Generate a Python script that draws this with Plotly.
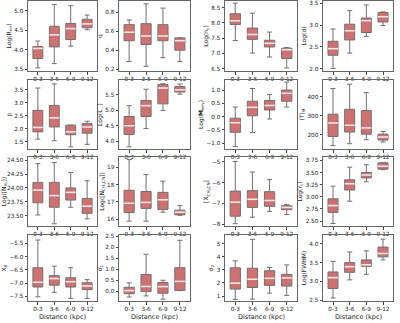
import plotly.graph_objects as go

categories = ["0-3", "3-6", "6-9", "9-12"]

# Each panel: [lower whisker, Q1, median, Q3, upper whisker] per distance bin
log_rvir = [[3.53, 3.64, 4.09, 4.51], [3.77, 4.07, 4.26, 4.56], [4.03, 4.38, 4.54, 4.66], [4.08, 4.60, 4.67, 4.78], [4.22, 5.16, 5.13, 4.89]]
q_index = [[0.28, 0.23, 0.32, 0.28], [0.50, 0.46, 0.50, 0.40], [0.59, 0.55, 0.55, 0.50], [0.67, 0.68, 0.67, 0.53], [0.72, 0.89, 0.845, 0.53]]
log_nc = [[7.42, 7.01, 6.88, 6.52], [7.95, 7.46, 7.21, 6.83], [8.07, 7.62, 7.33, 7.12], [8.30, 7.83, 7.43, 7.17], [8.65, 8.32, 7.70, 7.19]]
log_d = [[2.01, 2.36, 2.74, 2.99], [2.31, 2.66, 2.83, 3.07], [2.46, 2.87, 3.10, 3.19], [2.63, 3.02, 3.16, 3.29], [2.91, 3.33, 3.46, 3.30]]
p_index = [[1.60, 1.54, 1.30, 1.40], [1.88, 2.07, 1.77, 1.83], [2.05, 2.42, 1.88, 2.07], [2.71, 2.90, 2.14, 2.20], [3.57, 3.73, 2.14, 2.29]]
log_l = [[3.82, 4.41, 5.00, 5.52], [4.22, 4.80, 5.21, 5.59], [4.50, 5.15, 5.72, 5.66], [4.80, 5.32, 5.83, 5.77], [5.15, 5.68, 5.86, 5.85]]
log_menv = [[-1.13, -0.60, -0.09, 0.36], [-0.59, 0.03, 0.25, 0.58], [-0.23, 0.35, 0.42, 0.88], [-0.06, 0.58, 0.61, 1.00], [0.36, 1.06, 0.83, 1.30]]
t_mean = [[143, 153, 174, 162], [191, 214, 203, 172], [262, 250, 236, 188], [308, 334, 327, 203], [443, 466, 422, 217]]
log_nh2 = [[23.51, 23.35, 23.65, 23.44], [23.73, 23.65, 23.78, 23.54], [23.96, 23.86, 23.92, 23.67], [24.10, 24.10, 24.00, 23.81], [24.44, 24.46, 24.28, 24.13]]
log_nch3cn = [[15.88, 15.88, 16.40, 16.22], [16.38, 16.62, 16.55, 16.25], [16.92, 16.97, 17.12, 16.40], [17.67, 17.60, 17.55, 16.52], [19.45, 18.58, 18.20, 16.78]]
x_ch3cn = [[-7.97, -7.66, -7.38, -7.53], [-7.61, -7.19, -7.14, -7.30], [-6.94, -6.80, -6.86, -7.19], [-6.41, -6.39, -6.44, -7.11], [-5.00, -5.50, -5.86, -7.06]]
log_rc = [[2.45, 2.91, 3.31, 3.56], [2.68, 3.14, 3.39, 3.57], [2.82, 3.27, 3.45, 3.63], [2.96, 3.35, 3.50, 3.70], [3.22, 3.61, 3.66, 3.70]]
x_zero = [[-7.52, -7.35, -7.58, -7.58], [-7.15, -7.08, -7.15, -7.25], [-6.97, -6.83, -6.95, -7.11], [-6.42, -6.72, -6.80, -6.99], [-5.37, -6.36, -6.42, -6.87]]
sigma1 = [[-0.26, -0.21, -0.36, 0.03], [-0.11, -0.01, -0.09, 0.04], [0.03, 0.22, 0.21, 0.45], [0.18, 0.76, 0.40, 1.07], [0.38, 1.68, 0.50, 2.31]]
sigma2 = [[0.74, 0.76, 1.22, 1.05], [1.53, 1.65, 1.81, 1.76], [1.98, 2.28, 2.35, 2.38], [3.15, 3.12, 2.93, 2.65], [3.68, 5.32, 3.18, 3.37]]
log_fwhm = [[2.56, 3.04, 3.19, 3.57], [2.81, 3.24, 3.40, 3.65], [3.10, 3.39, 3.44, 3.74], [3.25, 3.50, 3.57, 3.91], [3.53, 3.78, 3.81, 4.12]]

panels = [
    (log_rvir, "Log(R<sub>vir</sub>)", [3.45, 5.25], 0.5, ".1f"),
    (q_index, "q", [0.18, 0.92], 0.2, ".1f"),
    (log_nc, "Log(n<sub>c</sub>)", [6.42, 8.72], 0.5, ".1f"),
    (log_d, "Log(d)", [1.95, 3.55], 0.5, ".1f"),
    (p_index, "p", [1.22, 3.88], 0.5, ".1f"),
    (log_l, "Log(L<sub>...</sub>)", [3.75, 5.98], 0.5, ".1f"),
    (log_menv, "Log(<b>M</b><sub>env</sub>)", [-1.22, 1.38], 0.5, ".1f"),
    (t_mean, "⟨T⟩<sub>M</sub>", [125, 488], 100, "d"),
    (log_nh2, "Log([N<sub>H<sub>2</sub></sub>])", [23.31, 24.56], 0.25, ".2f"),
    (log_nch3cn, "Log([N<sub>CH<sub>3</sub>CN</sub>])", [15.6, 19.6], 1, "d"),
    (x_ch3cn, "[X<sub>CH<sub>3</sub>CN</sub>]", [-8.08, -4.78], 1, "d"),
    (log_rc, "Log(r<sub>c</sub>)", [2.4, 3.82], 0.25, ".2f"),
    (x_zero, "X<sub>0</sub>", [-7.68, -5.18], 0.5, ".1f"),
    (sigma1, "σ<sub>1</sub>", [-0.44, 2.55], 0.5, ".1f"),
    (sigma2, "σ<sub>2</sub>", [0.62, 5.65], 1, "d"),
    (log_fwhm, "Log(FWHM)", [2.48, 4.23], 0.5, ".1f"),
]

W, H = 400, 323
col_px = [(28, 97), (119, 190), (225, 297), (323, 393)]
row_px = [(1, 71), (80, 149), (157, 226), (235, 301)]

fig = go.Figure()
xpos = list(range(len(categories)))
half = 0.3
layout = {}
annotations = []
font_family = "DejaVu Sans"
for k, (stats, label, yr, dt, fmt) in enumerate(panels):
    r, c = divmod(k, 4)
    idx = "" if k == 0 else str(k + 1)
    xa, ya = "x" + idx, "y" + idx
    lo, q1, med, q3, hi = stats
    fig.add_trace(go.Box(
        x=xpos, lowerfence=lo, q1=q1, median=med, q3=q3, upperfence=hi,
        width=0.6, whiskerwidth=0.5, fillcolor="rgba(200,88,88,0.85)",
        line=dict(color="#707070", width=1), boxpoints=False,
        xaxis=xa, yaxis=ya, showlegend=False, hoverinfo="skip"))
    mx, my = [], []
    for i, m in zip(xpos, med):
        mx += [i - half, i + half, None]
        my += [m, m, None]
    fig.add_trace(go.Scatter(x=mx, y=my, mode="lines",
                             line=dict(color="#fbe6e6", width=1.6),
                             xaxis=xa, yaxis=ya, showlegend=False, hoverinfo="skip"))
    x0, x1 = col_px[c]
    y0, y1 = row_px[r]
    axcommon = dict(showline=True, mirror=True, linecolor="#666", linewidth=1,
                    ticks="outside", ticklen=2.5, tickwidth=0.8, tickcolor="#444",
                    showgrid=False, zeroline=False, automargin=False, tickangle=0,
                    tickfont=dict(size=5.7, color="#222", family=font_family))
    layout["xaxis" + idx] = dict(
        axcommon, domain=[x0 / W, x1 / W], anchor=ya, range=[-0.6, 3.6],
        tickmode="array", tickvals=xpos, ticktext=categories)
    layout["yaxis" + idx] = dict(
        axcommon, domain=[1 - y1 / H, 1 - y0 / H], anchor=xa, range=yr, dtick=dt,
        tickformat=fmt,
        title=dict(text=label, font=dict(size=6, family=font_family, color="#222"), standoff=2))
    if r == 3:
        annotations.append(dict(text="Distance (kpc)", xref="paper", yref="paper",
                                x=(x0 + x1) / 2 / W, y=0, xanchor="center", yanchor="bottom",
                                showarrow=False, font=dict(size=6.5, family=font_family, color="#222")))

fig.update_layout(width=W, height=H, margin=dict(l=0, r=0, t=0, b=0),
                  paper_bgcolor="white", plot_bgcolor="white",
                  template="none", annotations=annotations, **layout)
fig.write_html("out.html")
